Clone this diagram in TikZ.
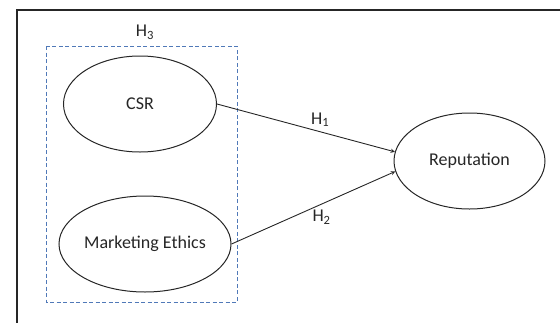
\documentclass[tikz,border=0pt]{standalone}
\usepackage{fontspec}
\setmainfont{Carlito}
\usepackage{tikz}
\usetikzlibrary{arrows,positioning,shapes.geometric}
\definecolor{hypblue}{HTML}{5079B8}

\begin{document}
\begin{tikzpicture}[x=1pt, y=-1pt, font=\fontsize{18}{22}\selectfont, text=black!85,
    var/.style={draw=black!85, ellipse, line width=1pt, minimum width=153pt, minimum height=96pt, inner sep=0pt},
    hyp/.style={->, >=stealth, line width=0.9pt, draw=black!85},
    grp/.style={draw=hypblue, dash pattern=on 4pt off 2.5pt, line width=0.9pt}]

    \useasboundingbox (0,0) rectangle (560,322);
    \draw[line width=1.3pt, black!85] (17,330) -- (17,10) -- (570,10);

    \node[var]                                   (csr)    at (140,104)   {CSR};
    \node[var, below = 43pt of csr, xshift=5pt]  (ethics)                {Marketing Ethics};
    \node[var, minimum width=151pt]              (rep)    at (469.5,161) {Reputation};

    \draw[grp] (46,46) rectangle (237,302);
    \node (h3) at (145,32) {H\textsubscript{3}};

    \draw[hyp] (csr.east) -- (rep.173) node[pos=.58, above=1pt] (h1) {H\textsubscript{1}};
    \draw[hyp] (ethics.east) -- (rep.188) node[pos=.55, below=2pt] (h2) {H\textsubscript{2}};

\end{tikzpicture}
\end{document}
